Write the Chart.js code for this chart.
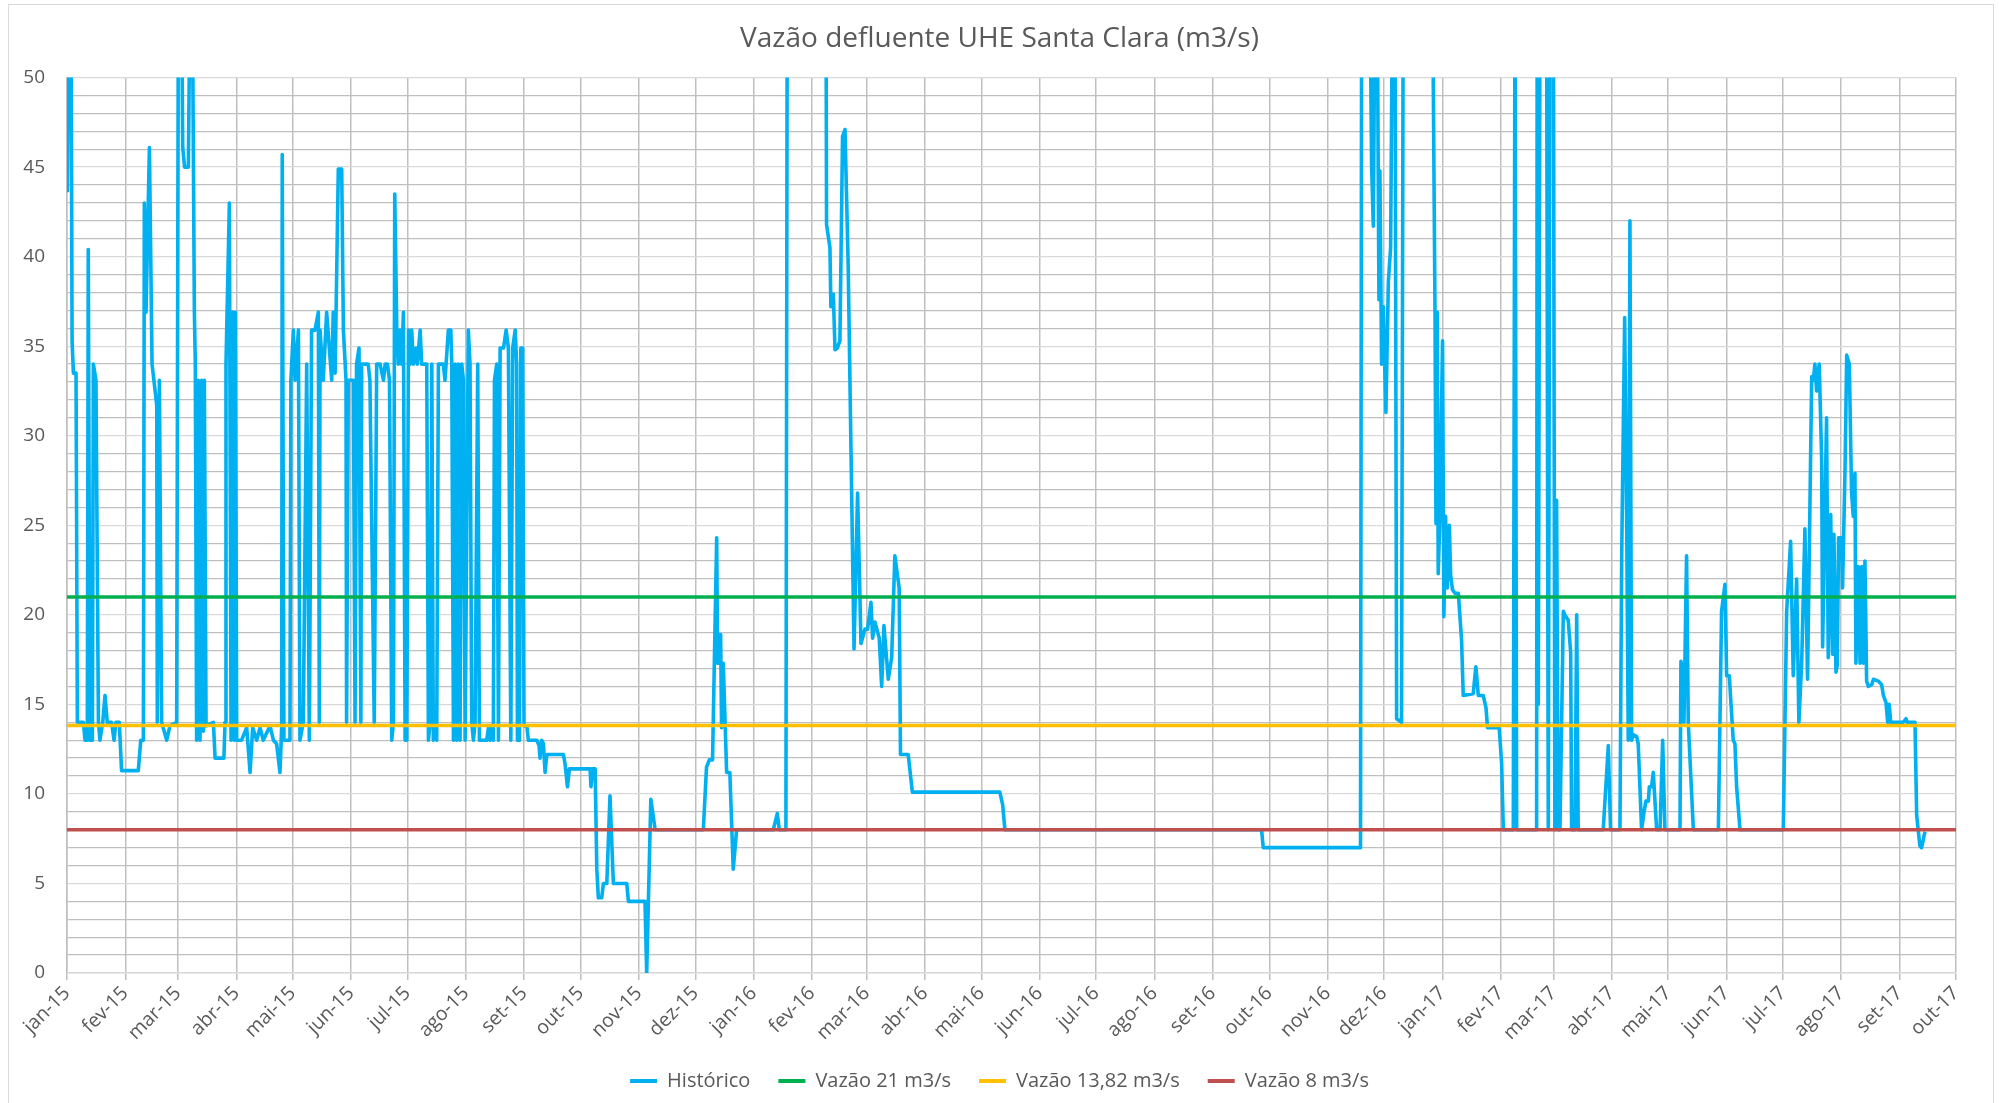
<!DOCTYPE html>
<html lang="pt-BR">
<head>
<meta charset="utf-8">
<title>Vazão defluente UHE Santa Clara</title>
<script src="https://cdn.jsdelivr.net/npm/chart.js@4.4.1/dist/chart.umd.min.js"></script>
<style>
  html, body { margin: 0; padding: 0; background: #fff; }
  .wrap { position: relative; width: 1999px; height: 1103px; overflow: hidden; }
  canvas { display: block; }
  .frame { position: absolute; left: 8px; top: 4px; width: 1984px; height: 1120px; border: 1px solid #d9d9d9; pointer-events: none; }
</style>
</head>
<body>
<div class="wrap">
  <canvas id="flowChart" width="1999" height="1103"></canvas>
  <div class="frame"></div>
</div>
<script>
// Month tick labels, jan-15 .. out-17
const monthLabels = [
  'jan-15', 'fev-15', 'mar-15', 'abr-15', 'mai-15', 'jun-15', 'jul-15', 'ago-15', 'set-15', 'out-15', 'nov-15', 'dez-15',
  'jan-16', 'fev-16', 'mar-16', 'abr-16', 'mai-16', 'jun-16', 'jul-16', 'ago-16', 'set-16', 'out-16', 'nov-16', 'dez-16',
  'jan-17', 'fev-17', 'mar-17', 'abr-17', 'mai-17', 'jun-17', 'jul-17', 'ago-17', 'set-17', 'out-17'
];

// Historico: day counted from 01/01/2015, flow in m3/s (values above 50 are off the top of the axis)
const histDay = [
  0.2, 0.9, 2.1, 2.7, 3.4, 4.8, 5.5, 8.7, 9.6, 10.8, 11.3, 12.2, 13.5, 14, 15.4, 16.7, 17.5, 19, 20.2, 21.4,
  23.7, 25, 26, 27.8, 29, 37.9, 39.2, 40.6, 41.1, 42, 43.8, 45.2, 47.7, 48, 49.1, 50.3, 53, 54.7, 58.3, 59.2,
  60.9, 61.5, 62.5, 64.5, 65.4, 66.6, 67.7, 68.2, 68.9, 69.8, 70.7, 71.6, 72.5, 73, 73.9, 77.8, 78.7, 83.4, 84, 84.5,
  86.3, 87.2, 88, 88.9, 89.5, 90.2, 92.8, 95.5, 97.3, 98.7, 100.8, 102.6, 104.3, 107.9, 109.7, 111.4, 113.2, 114.1, 114.4, 115.3,
  118.5, 119, 120.3, 121.2, 123, 123.8, 125.6, 127.4, 128.8, 130, 131.8, 133.6, 134.1, 134.5, 136.2, 138, 140.7, 141.5, 142.5, 144.2,
  146, 146.9, 148.3, 148.6, 149.5, 152.2, 153.1, 153.9, 155.2, 156.2, 156.6, 160.1, 161, 163.3, 164.6, 166.4, 168.2, 169.1, 170.3, 171.4,
  172.6, 173.5, 174.2, 175.3, 176.1, 177, 177.9, 178.8, 179.7, 180.6, 181.5, 182.3, 183.2, 184.1, 185.5, 186.2, 187.7, 188.5, 191.2, 192.1,
  193, 193.9, 194.7, 195.6, 196.5, 197.4, 200, 200.9, 202.7, 204, 204.5, 205.4, 206.3, 207.1, 208, 208.9, 209.8, 210.7, 211.6, 213.3,
  214.2, 215.1, 216, 216.9, 218.3, 219.2, 223.1, 224, 224.9, 225.8, 226.6, 227.2, 228.4, 229.3, 230.2, 232, 233.4, 234.6, 235.9, 236.9,
  238.2, 239, 239.4, 240.5, 241.2, 242.2, 242.9, 244.4, 245.2, 249.7, 250.9, 251.4, 252.3, 253.2, 254.1, 255, 263.8, 264.7, 266, 267,
  278, 278.5, 279.4, 280.7, 281.6, 282.4, 284.2, 285.1, 286.9, 288.6, 290.4, 297.5, 298.4, 307.2, 308.1, 310.3, 312.6, 338.2, 339.9, 341.4,
  343.1, 345.3, 345.8, 346.7, 347.4, 347.9, 348.8, 350.6, 352.3, 354.1, 355.9, 375.4, 377.5, 378.6, 382.1, 382.8, 403.4, 403.7, 405.5, 406,
  407.3, 408.2, 409.4, 410.8, 412.2, 413.5, 415.2, 418.3, 420.2, 422, 424.1, 425.5, 427.3, 428.2, 429.4, 431.7, 433, 434.2, 436.5, 438.3,
  440, 442.3, 443, 447.1, 449.3, 495.8, 497.3, 498.5, 634.9, 635.8, 687.5, 688.1, 692.5, 693.4, 694.3, 695.2, 696.4, 696.9, 697.3, 697.8,
  698.7, 699.6, 701, 702.3, 703.5, 704.5, 705.8, 706.7, 709.3, 710.2, 725.8, 727.1, 727.6, 728.3, 728.8, 729.7, 731.1, 731.8, 732.7, 733.6,
  734.7, 735.4, 736.4, 737.7, 739.5, 741.2, 742.1, 747.4, 748.8, 750.1, 752.7, 754.2, 755, 761.2, 762.5, 763.4, 768.7, 769.6, 770.5, 781.1,
  781.4, 782, 782.9, 786.4, 787.3, 788.2, 790, 790.8, 791.7, 792.6, 793.5, 795.3, 796.1, 797.9, 799.2, 799.7, 801.5, 802.4, 803.2, 816.5,
  819.2, 820.4, 825.4, 826.3, 827.9, 829, 829.8, 830.7, 831.6, 832.5, 834.3, 835.1, 836.9, 838.2, 839.2, 840.5, 841, 842.2, 843.1, 844.9,
  846.7, 848.1, 849.3, 857.3, 857.8, 858.7, 859.4, 860.8, 861.7, 864.4, 877.7, 879.4, 881.2, 882.1, 883.5, 885.6, 886.5, 887.4, 889.2, 912.2,
  914, 916.1, 917.5, 919.3, 920.5, 922, 923.7, 925.1, 927.3, 928.2, 929, 929.9, 931.3, 932.6, 933.1, 935.2, 936.1, 937.4, 938.4, 939.1,
  940.2, 940.9, 941.6, 943.2, 943.7, 945, 945.9, 947.3, 948.5, 949.4, 950.3, 950.8, 952.1, 953, 954, 954.7, 955.6, 956.5, 957.4, 959.2,
  960.1, 962.7, 964.5, 965.4, 966.8, 967.7, 968.5, 969.3, 976, 977.4, 978.1, 982.2, 983.1, 984.8, 985.7, 987.5
];
const histFlow = [
  43.6, 55, 55, 35.3, 33.5, 33.5, 14, 14, 13, 13, 40.4, 13, 13, 34, 33.1, 14, 13, 14, 15.5, 14,
  14, 13, 14, 14, 11.3, 11.3, 13, 13, 43, 36.9, 46.1, 34, 31.7, 14, 33.1, 14, 13, 13.8, 14, 55,
  55, 46.1, 45, 45, 55, 55, 36.9, 34, 13, 33.1, 13, 33.1, 13.5, 33.1, 13.8, 14, 12, 12, 14, 34,
  43, 13, 36.9, 13, 36.9, 13, 13, 13.7, 11.2, 13.7, 13, 13.7, 13, 13.8, 13, 12.8, 11.2, 13.7, 45.7, 13,
  13, 33.1, 35.9, 33.1, 35.9, 13, 14, 34, 13, 35.9, 35.9, 36.9, 14, 35.9, 33.1, 36.9, 33.1, 36.9, 33.5, 44.9,
  44.9, 35.9, 33.1, 14, 33.1, 33.1, 14, 34, 34.9, 14, 34, 34, 33.1, 14, 34, 34, 33.1, 34, 34, 33.1,
  13, 14, 43.5, 35.9, 34, 35.9, 34, 36.9, 13, 13, 35.9, 34, 35.9, 34, 34.9, 34, 35.9, 34, 34, 13,
  14, 34, 13, 14, 13, 34, 34, 33.1, 35.9, 35.9, 34, 13, 34, 13, 34, 13, 34, 33.1, 13, 35.9,
  34, 14, 13, 14, 34, 13, 13, 13.7, 13, 13.7, 13, 33.1, 34, 13, 34.9, 34.9, 35.9, 34.9, 13, 34.9,
  35.9, 34, 13, 13, 34.9, 34.9, 13.8, 13.8, 13, 13, 12.7, 12, 13, 12.8, 11.2, 12.2, 12.2, 11.7, 10.4, 11.4,
  11.4, 10.4, 11.4, 11.4, 5.8, 4.2, 4.2, 5, 5, 9.9, 5, 5, 4, 4, 0, 9.7, 8, 8, 11.5, 11.9,
  11.9, 24.3, 17.3, 17.3, 18.9, 13.7, 17.3, 11.2, 11.2, 5.8, 8, 8, 8.9, 8, 8, 55, 55, 41.8, 40.5, 37.2,
  37.9, 34.8, 34.9, 35.3, 46.7, 47.1, 39.5, 18.1, 26.8, 18.4, 19.2, 19.2, 20.7, 18.7, 19.6, 18.7, 16, 19.4, 16.4, 17.6,
  23.3, 21.5, 12.2, 12.2, 10.1, 10.1, 9.4, 8, 8, 7, 7, 55, 55, 45.1, 41.7, 55, 55, 44.8, 37.6, 44.8,
  34, 37.2, 31.3, 38.6, 40.5, 55, 55, 14.2, 14, 55, 55, 36.9, 25.1, 36.9, 22.3, 25.5, 35.3, 19.9, 25.5, 21.5,
  25, 22.2, 21.4, 21.2, 21.2, 18.6, 15.5, 15.6, 17.1, 15.5, 15.5, 14.8, 13.7, 13.7, 11.7, 8, 8, 55, 8, 8,
  55, 15, 55, 55, 8, 55, 55, 8, 26.4, 8, 8, 20.2, 20, 19.7, 17.9, 8, 8, 20, 8, 8,
  12.7, 8, 8, 23.2, 36.6, 24.8, 13, 42, 13, 13.3, 13.2, 12.8, 8, 9, 9.6, 9.6, 10.4, 10.4, 11.2, 8,
  8, 13, 8, 8, 17.4, 16.9, 14, 23.3, 14, 8, 8, 20.2, 21.7, 16.6, 16.6, 13, 12.8, 10.4, 8, 8,
  20.2, 24.1, 16.6, 22, 14, 17.4, 24.8, 16.4, 33.3, 33.1, 34, 32.5, 34, 28.7, 18.2, 31, 17.6, 25.6, 17.8, 24.5,
  16.8, 17.2, 24.3, 24.3, 21.5, 28, 34.5, 34, 26.8, 25.5, 27.9, 17.3, 22.7, 17.3, 22.7, 17.3, 23, 16.3, 16, 16.1,
  16.4, 16.3, 16.1, 15.5, 15.1, 14, 15, 14, 14, 14.2, 14, 14, 8.8, 7.1, 7, 7.9
];

// Reference flows (m3/s)
const refNames = ['Vazão 21 m3/s', 'Vazão 13,82 m3/s', 'Vazão 8 m3/s'];
const refFlows = [21, 13.82, 8];
const refColors = ['#00b050', '#ffc000', '#c0504d'];

const DAY_MS = 86400000;
const monthDays = monthLabels.map((_, i) => (Date.UTC(2015, i, 1) - Date.UTC(2015, 0, 1)) / DAY_MS);
const lastDay = monthDays[monthDays.length - 1];

const FONT = "'Open Sans', 'Noto Sans', sans-serif";
const TEXT = '#595959';

const datasets = [{
  label: 'Histórico',
  data: histDay.map((d, i) => ({ x: d, y: histFlow[i] })),
  borderColor: '#00b0f0',
  backgroundColor: '#00b0f0',
  borderWidth: 3.6,
  borderJoinStyle: 'round',
  pointRadius: 0,
  tension: 0,
  order: 2 // draw under the reference lines
}];

refFlows.forEach((v, i) => {
  datasets.push({
    label: refNames[i],
    data: [{ x: 0, y: v }, { x: lastDay, y: v }],
    borderColor: refColors[i],
    backgroundColor: refColors[i],
    borderWidth: 3.6,
    pointRadius: 0,
    order: 1
  });
});

new Chart(document.getElementById('flowChart'), {
  type: 'line',
  data: { datasets },
  options: {
    responsive: false,
    animation: false,
    events: [],
    layout: { padding: { left: 0, right: 0, top: 0, bottom: 2 } },
    plugins: {
      title: {
        display: true,
        text: 'Vazão defluente UHE Santa Clara (m3/s)',
        color: TEXT,
        font: { family: FONT, size: 28, weight: 'normal' },
        padding: { top: 22, bottom: 22 }
      },
      legend: {
        position: 'bottom',
        labels: {
          color: TEXT,
          font: { family: FONT, size: 20 },
          boxWidth: 27,
          boxHeight: 4,
          padding: 28,
          sort: (a, b) => a.datasetIndex - b.datasetIndex,
          generateLabels: chart => Chart.defaults.plugins.legend.labels.generateLabels(chart)
            .map(item => Object.assign(item, { lineWidth: 0, fillStyle: item.strokeStyle }))
        }
      },
      tooltip: { enabled: false }
    },
    scales: {
      x: {
        type: 'linear',
        min: 0,
        max: lastDay,
        afterBuildTicks: axis => { axis.ticks = monthDays.map(v => ({ value: v })); },
        afterFit: axis => { axis.height = 70; },
        ticks: {
          autoSkip: false,
          minRotation: 45,
          maxRotation: 45,
          padding: 2,
          color: TEXT,
          font: { family: FONT, size: 19.5 },
          callback: (value, index) => monthLabels[index]
        },
        grid: { color: '#bfbfbf', lineWidth: 1.5, tickLength: 7 },
        border: { color: '#d9d9d9', width: 1.5 }
      },
      y: {
        min: 0,
        max: 50,
        afterFit: axis => { axis.width = 67; },
        ticks: {
          stepSize: 1,
          autoSkip: false,
          padding: 22,
          color: TEXT,
          font: { family: FONT, size: 19 },
          callback: v => (v % 5 === 0 ? v : '')
        },
        grid: {
          drawTicks: false,
          lineWidth: 1.3,
          color: ctx => (ctx.tick && ctx.tick.value % 5 === 0 ? '#d9d9d9' : '#bfbfbf')
        },
        border: { color: '#bfbfbf', width: 1.5 }
      },
      // empty right-hand margin so title and legend centre on the whole chart
      yRight: {
        position: 'right',
        min: 0,
        max: 50,
        afterFit: axis => { axis.width = 43; },
        ticks: { display: false },
        grid: { display: false },
        border: { display: false }
      }
    }
  }
});
</script>
</body>
</html>
